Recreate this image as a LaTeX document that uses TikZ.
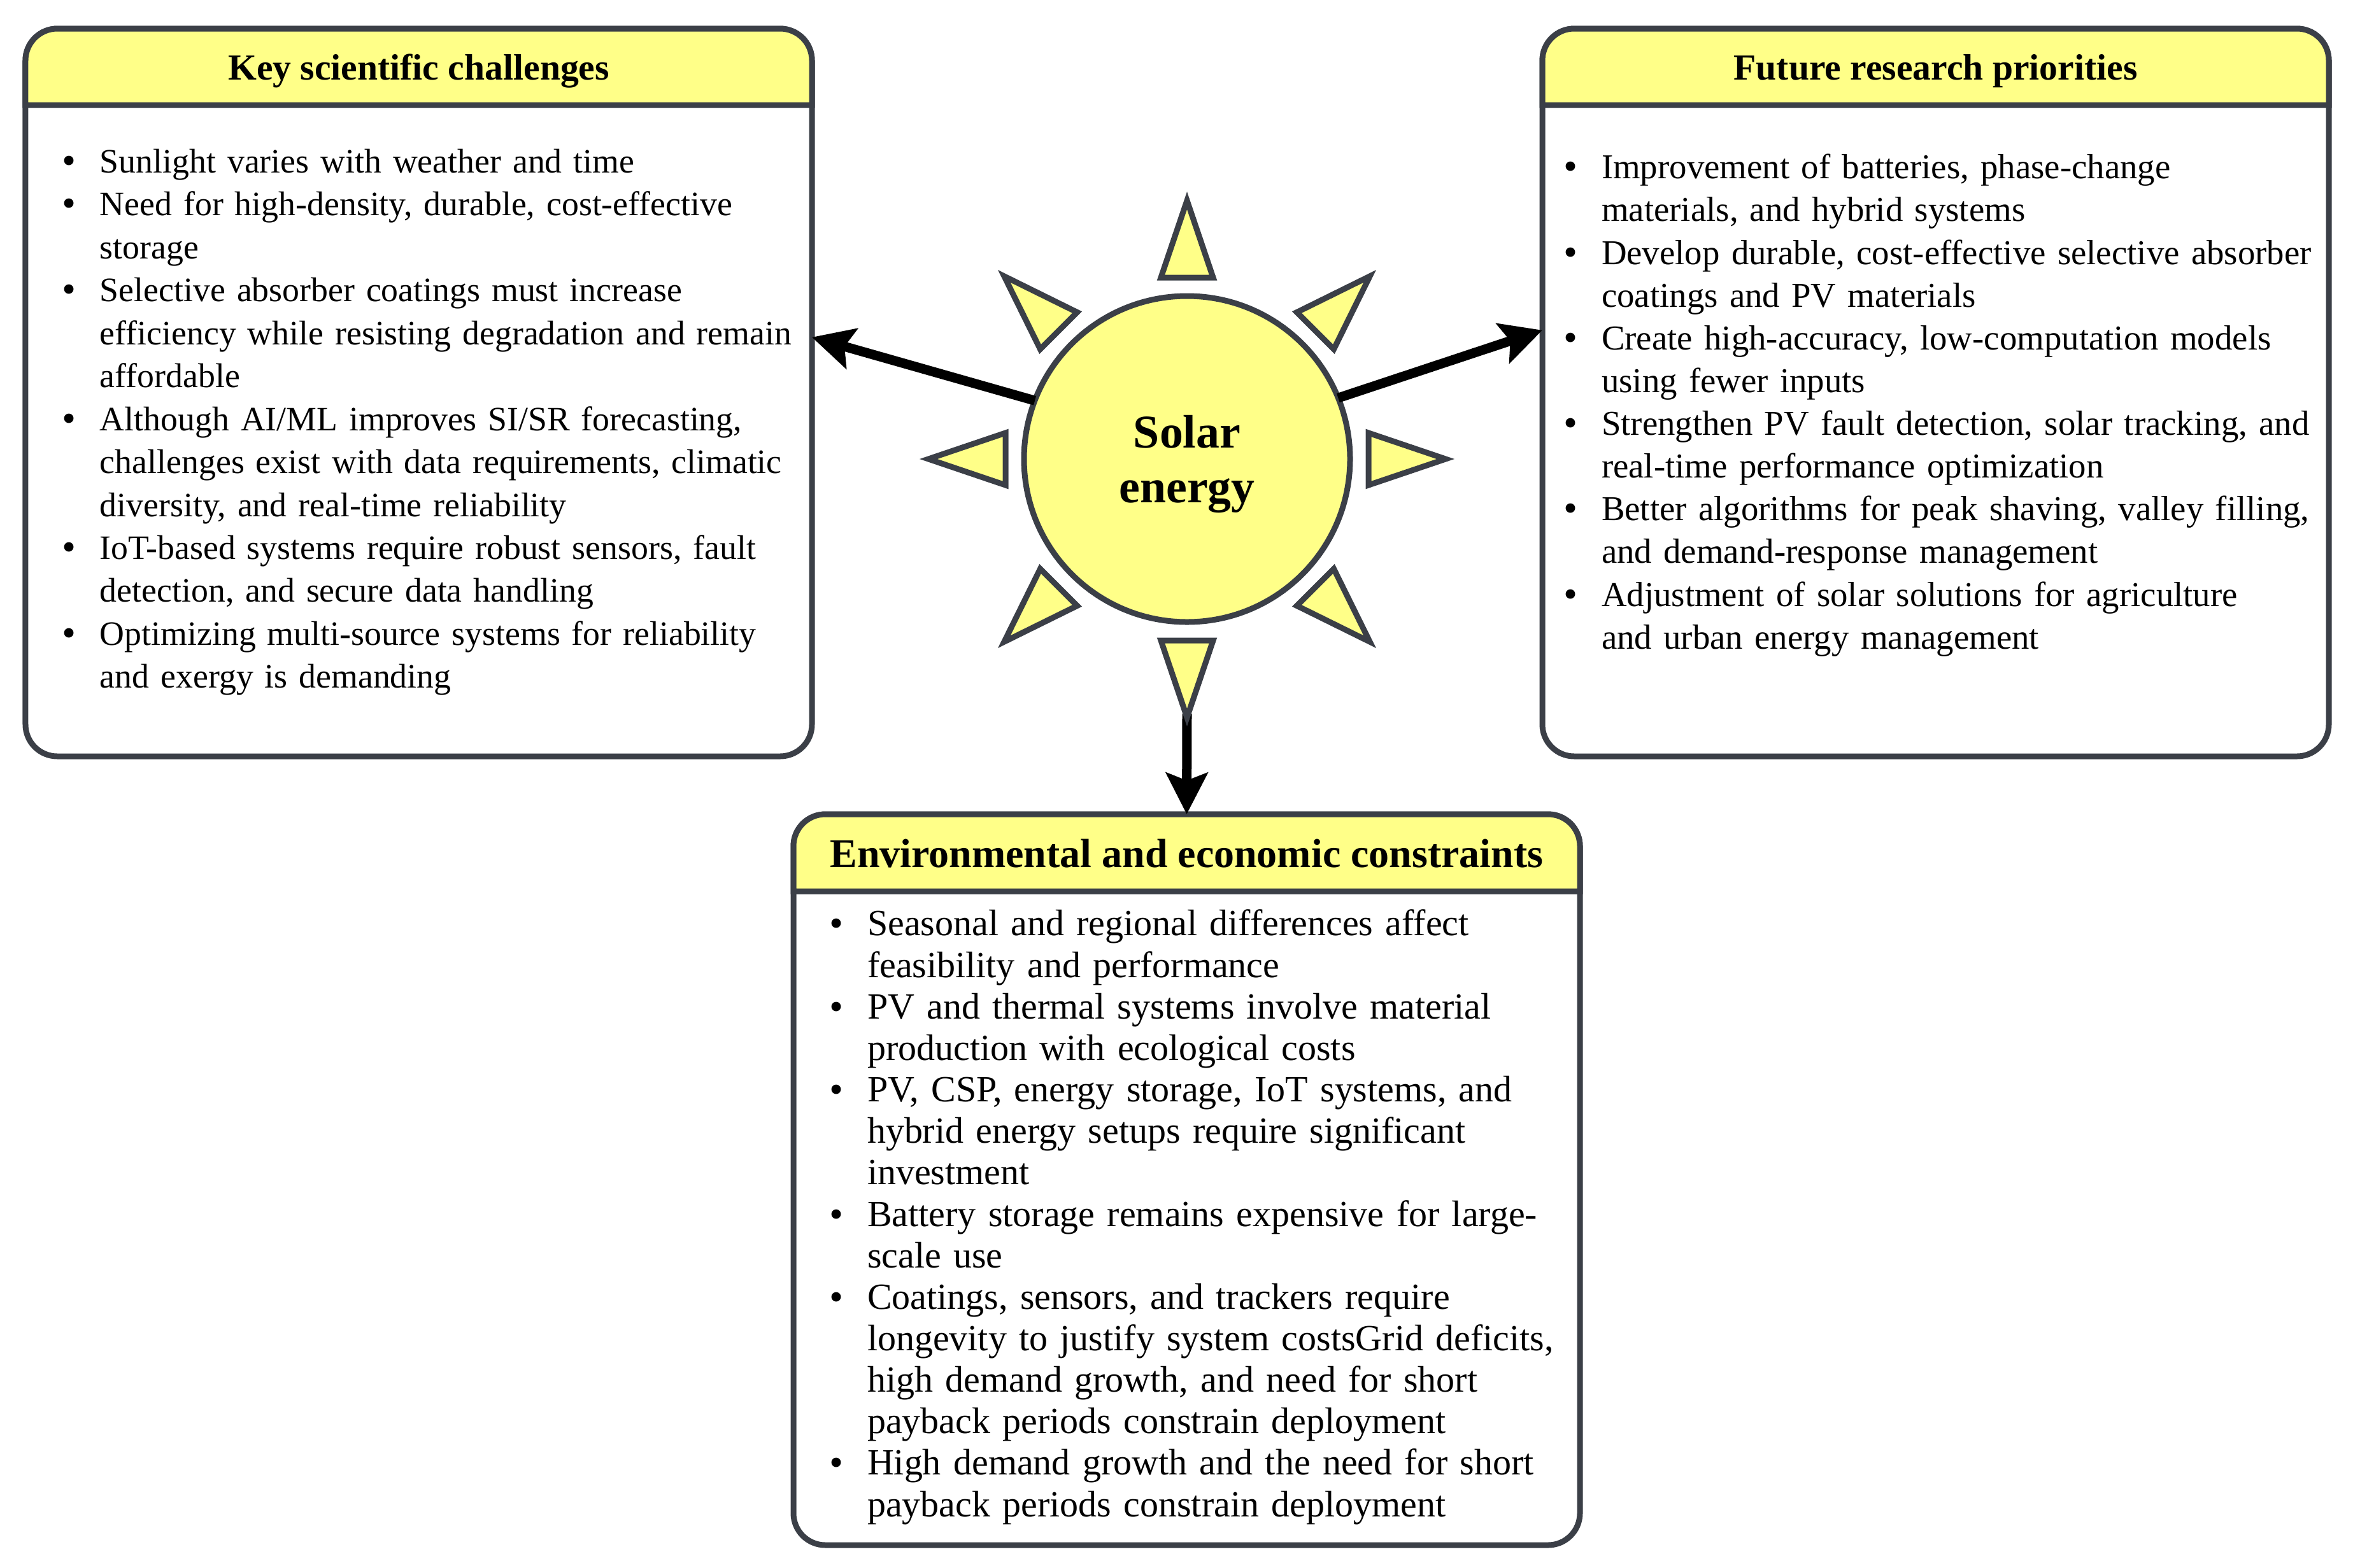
\documentclass[tikz,border=0pt]{standalone}
\usepackage{fontspec}
\setmainfont{Liberation Serif}
\newfontfamily\bulletfont{DejaVu Sans}
\usetikzlibrary{arrows.meta}
\definecolor{sunyellow}{HTML}{FFFF88}
\definecolor{edgegray}{HTML}{3B3F47}
\newenvironment{bulletlist}{\frenchspacing\begin{list}{{\bulletfont\fontsize{14.5}{14.5}\selectfont\textbullet}}{\setlength{\leftmargin}{20pt}\setlength{\labelsep}{9.6pt}\setlength{\labelwidth}{10.4pt}\setlength{\topsep}{0pt}\setlength{\partopsep}{0pt}\setlength{\parsep}{0pt}\setlength{\itemsep}{0pt}}}{\end{list}}
\begin{document}
\begin{tikzpicture}[>={Stealth[length=.65cm,width=.65cm,inset=.12cm]},
panel/.style={draw=edgegray,line width=.09cm,rounded corners=.5cm,fill=white,inner sep=0pt,outer sep=0pt,minimum width=12.35cm,minimum height=11.43cm},
band/.style={draw=edgegray,line width=.09cm,fill=sunyellow},
headtext/.style={anchor=base,font=\fontsize{16.4}{20}\selectfont\bfseries,inner sep=0pt},
listtext/.style={anchor=north west,inner sep=0pt,text width=12.2cm,align=left,font=\fontsize{15.3}{19.2}\selectfont},
ray/.style={draw=edgegray,line width=.09cm,fill=sunyellow,miter limit=10},
link/.style={->,line width=.15cm}]
\useasboundingbox (0,0) rectangle (36.95,-24.62);

\node[panel] (challenges) at (6.575,-6.165) {};
\node[panel] (priorities) at (30.395,-6.165) {};
\node[panel,minimum height=11.48cm] (constraints) at (18.635,-18.53) {};

\draw[band] ([yshift=-1.2cm]challenges.north west) [rounded corners=.5cm] -- (challenges.north west) -- (challenges.north east) [sharp corners] -- ([yshift=-1.2cm]challenges.north east) -- cycle;
\draw[band] ([yshift=-1.2cm]priorities.north west) [rounded corners=.5cm] -- (priorities.north west) -- (priorities.north east) [sharp corners] -- ([yshift=-1.2cm]priorities.north east) -- cycle;
\draw[band] ([yshift=-1.21cm]constraints.north west) [rounded corners=.5cm] -- (constraints.north west) -- (constraints.north east) [sharp corners] -- ([yshift=-1.21cm]constraints.north east) -- cycle;

\node[headtext] (challengeshead) at ([yshift=-.8cm]challenges.north) {Key scientific challenges};
\node[headtext] (prioritieshead) at ([yshift=-.8cm]priorities.north) {Future research priorities};
\node[headtext,font=\fontsize{18.2}{22}\selectfont\bfseries] (constraintshead) at ([yshift=-.83cm]constraints.north) {Environmental and economic constraints};

\node[listtext] (challengeslist) at ([xshift=.46cm,yshift=-1.58cm]challenges.north west) {
\begin{bulletlist}
\item Sunlight varies with weather and time
\item Need for high-density, durable, cost-effective\\storage
\item Selective absorber coatings must increase\\efficiency while resisting degradation and remain\\affordable
\item Although AI/ML improves SI/SR forecasting,\\challenges exist with data requirements, climatic\\diversity, and real-time reliability
\item IoT-based systems require robust sensors, fault\\detection, and secure data handling
\item Optimizing multi-source systems for reliability\\and exergy is demanding
\end{bulletlist}};

\node[listtext,font=\fontsize{15.6}{19.1}\selectfont] (prioritieslist) at ([xshift=.22cm,yshift=-1.68cm]priorities.north west) {
\begin{bulletlist}
\item Improvement of batteries, phase-change\\materials, and hybrid systems
\item Develop durable, cost-effective selective absorber\\coatings and PV materials
\item Create high-accuracy, low-computation models\\using fewer inputs
\item Strengthen PV fault detection, solar tracking, and\\real-time performance optimization
\item Better algorithms for peak shaving, valley filling,\\and demand-response management
\item Adjustment of solar solutions for agriculture\\and urban energy management
\end{bulletlist}};

\node[listtext,font=\fontsize{16.5}{18.54}\selectfont] (constraintslist) at ([xshift=.45cm,yshift=-1.25cm]constraints.north west) {
\begin{bulletlist}
\item Seasonal and regional differences affect\\feasibility and performance
\item PV and thermal systems involve material\\production with ecological costs
\item PV, CSP, energy storage, IoT systems, and\\hybrid energy setups require significant\\investment
\item Battery storage remains expensive for large-\\scale use
\item Coatings, sensors, and trackers require\\longevity to justify system costsGrid deficits,\\high demand growth, and need for short\\payback periods constrain deployment
\item High demand growth and the need for short\\payback periods constrain deployment
\end{bulletlist}};

\node[circle,draw=edgegray,line width=.09cm,fill=sunyellow,minimum size=5.12cm,inner sep=0pt,outer sep=0pt] (sun) at (18.64,-7.21) {};
\node[align=center,inner sep=0pt,font=\fontsize{21}{24.7}\selectfont\bfseries] (sunlabel) at ([yshift=-.08cm]sun.center) {Solar\\energy};

% arrows first, so the rays sit on top
\coordinate (raytip) at ([yshift=-4.0cm]sun.center);
\draw[link] (sun.159) -- (challenges.8.15);
\draw[link] (sun.22.7) -- (priorities.171.85);
\draw[link] (raytip) -- (constraints.north);

\foreach \ang in {0,45,...,315}
  \draw[ray,shift={(sun.center)},rotate=\ang] (2.85,.41) -- (2.85,-.41) -- (4.06,0) -- cycle;
\end{tikzpicture}
\end{document}
